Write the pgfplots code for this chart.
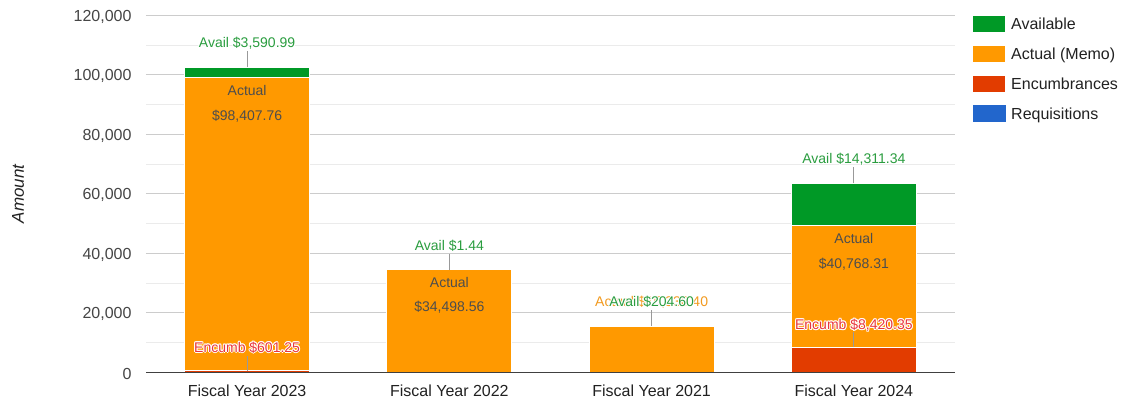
\documentclass[border=0pt]{standalone}
\usepackage{fontspec}
\setmainfont{Liberation Sans}
\usepackage{pgfplots}
\pgfplotsset{compat=1.18}
\definecolor{cavail}{HTML}{009926}
\definecolor{cactual}{HTML}{FF9900}
\definecolor{cenc}{HTML}{E23C00}
\definecolor{creq}{HTML}{2266CC}
\definecolor{ctxt}{HTML}{4D4D4D}
\definecolor{avtxt}{HTML}{2A9D3F}
\definecolor{enctxt}{HTML}{E8373C}
\definecolor{acttxt}{HTML}{F29A1F}
\definecolor{stemc}{HTML}{999999}
\newcommand\fa{\fontsize{14}{16}\selectfont}
% text with a white halo: #1 yshift, #2 named coordinate, #3 colour, #4 text
\newcommand\halo[4]{%
  \node[font=\fa,text=white] at ([xshift=1pt,yshift=#1]#2) {#4};
  \node[font=\fa,text=white] at ([xshift=-1pt,yshift=#1]#2) {#4};
  \node[font=\fa,text=white] at ([yshift=#1+1pt]#2) {#4};
  \node[font=\fa,text=white] at ([yshift=#1-1pt]#2) {#4};
  \node[font=\fa,text=white] at ([xshift=0.7pt,yshift=#1+0.7pt]#2) {#4};
  \node[font=\fa,text=white] at ([xshift=-0.7pt,yshift=#1+0.7pt]#2) {#4};
  \node[font=\fa,text=white] at ([xshift=0.7pt,yshift=#1-0.7pt]#2) {#4};
  \node[font=\fa,text=white] at ([xshift=-0.7pt,yshift=#1-0.7pt]#2) {#4};
  \node[font=\fa,text=#3] at ([yshift=#1]#2) {#4};
}
\begin{document}
\begin{tikzpicture}[x=1pt,y=1pt]
\path[use as bounding box] (0,0) rectangle (1128,411);
\begin{axis}[
  at={(146pt,38.7pt)}, anchor=south west,
  scale only axis, width=809pt, height=357pt,
  ybar stacked, bar width=125pt,
  xmin=-0.5, xmax=3.5, ymin=0, ymax=120000,
  xtick={0,1,2,3},
  xticklabels={Fiscal Year 2023,Fiscal Year 2022,Fiscal Year 2021,Fiscal Year 2024},
  ytick={0,20000,40000,60000,80000,100000,120000},
  minor ytick={10000,30000,50000,70000,90000,110000},
  ymajorgrids, yminorgrids,
  major grid style={draw=black!20, line width=0.9pt},
  minor grid style={draw=black!8, line width=0.9pt},
  axis x line*=bottom, axis y line*=left,
  x axis line style={draw=none}, y axis line style={draw=none},
  major tick length=0pt, minor tick length=0pt,
  scaled y ticks=false,
  /pgf/number format/fixed,
  /pgf/number format/precision=0,
  /pgf/number format/1000 sep={,},
  /pgf/number format/assume math mode=true,
  yticklabel style={font=\fontsize{16}{19}\selectfont, text=black!73, xshift=-11pt, yshift=-1.5pt},
  xticklabel style={font=\fontsize{16}{19}\selectfont, text=black!87, yshift=-9pt},
  ylabel={\itshape Amount},
  ylabel style={at={(axis description cs:0,0.5)}, anchor=center, yshift=128pt, font=\fontsize{17}{20}\selectfont, text=black!87},
  reverse legend,
  legend cell align=left,
  legend image code/.code={\fill[#1] (0pt,-8.5pt) rectangle (33pt,8.5pt);},
  legend style={at={(axis description cs:1,1)}, anchor=north west, xshift=17pt, yshift=0pt,
    draw=none, fill=none, inner sep=0pt, row sep=12pt,
    font=\fontsize{16}{19}\selectfont, text=black!87,
    nodes={inner sep=0pt, anchor=west}, column sep=5pt},
]
\addplot[fill=creq, draw=none] coordinates {(0,0) (1,0) (2,0) (3,0)};
\addlegendentry{Requisitions}
\addplot[fill=cenc, draw=white, line width=1pt] coordinates {(0,601.25) (1,0) (2,0) (3,8420.35)};
\addlegendentry{Encumbrances}
\addplot[fill=cactual, draw=white, line width=1pt] coordinates {(0,98407.76) (1,34498.56) (2,15330.40) (3,40768.31)};
\addlegendentry{Actual (Memo)}
\addplot[fill=cavail, draw=white, line width=1pt] coordinates {(0,3590.99) (1,1.44) (2,204.60) (3,14311.34)};
\addlegendentry{Available}
\coordinate (bl) at (axis cs:-0.5,0);
\coordinate (br) at (axis cs:3.5,0);
\coordinate (act0) at (axis cs:0,99009.01);
\coordinate (act1) at (axis cs:1,34498.56);
\coordinate (act3) at (axis cs:3,49188.66);
\coordinate (top0) at (axis cs:0,102600);
\coordinate (top1) at (axis cs:1,34500);
\coordinate (top2) at (axis cs:2,15535);
\coordinate (top3) at (axis cs:3,63500);
\coordinate (enc0) at (axis cs:0,601.25);
\coordinate (enc3) at (axis cs:3,8420.35);
\end{axis}
% baseline
\draw[draw=black!75, line width=1.3pt] (bl) -- (br);
% inside Actual labels
\node[font=\fa, text=ctxt] at ([yshift=-13pt]act0) {Actual};
\node[font=\fa, text=ctxt] at ([yshift=-38pt]act0) {\$98,407.76};
\node[font=\fa, text=ctxt] at ([yshift=-13pt]act1) {Actual};
\node[font=\fa, text=ctxt] at ([yshift=-38pt]act1) {\$34,498.56};
\node[font=\fa, text=ctxt] at ([yshift=-13pt]act3) {Actual};
\node[font=\fa, text=ctxt] at ([yshift=-38pt]act3) {\$40,768.31};
% stems
\draw[draw=stemc, line width=1pt] (top0) -- ++(0,16);
\draw[draw=stemc, line width=1pt] (top1) -- ++(0,16);
\draw[draw=stemc, line width=1pt] (top2) -- ++(0,16);
\draw[draw=stemc, line width=1pt] (top3) -- ++(0,16);
\draw[draw=stemc, line width=1pt] (enc0) -- ++(0,15);
\draw[draw=stemc, line width=1pt] (enc3) -- ++(0,15);
% annotations
\halo{24pt}{top2}{acttxt}{Actual \$15,330.40}
\halo{24pt}{top0}{avtxt}{Avail \$3,590.99}
\halo{24pt}{top1}{avtxt}{Avail \$1.44}
\halo{24pt}{top2}{avtxt}{Avail \$204.60}
\halo{24pt}{top3}{avtxt}{Avail \$14,311.34}
\halo{23pt}{enc0}{enctxt}{Encumb \$601.25}
\halo{22pt}{enc3}{enctxt}{Encumb \$8,420.35}
\end{tikzpicture}
\end{document}
